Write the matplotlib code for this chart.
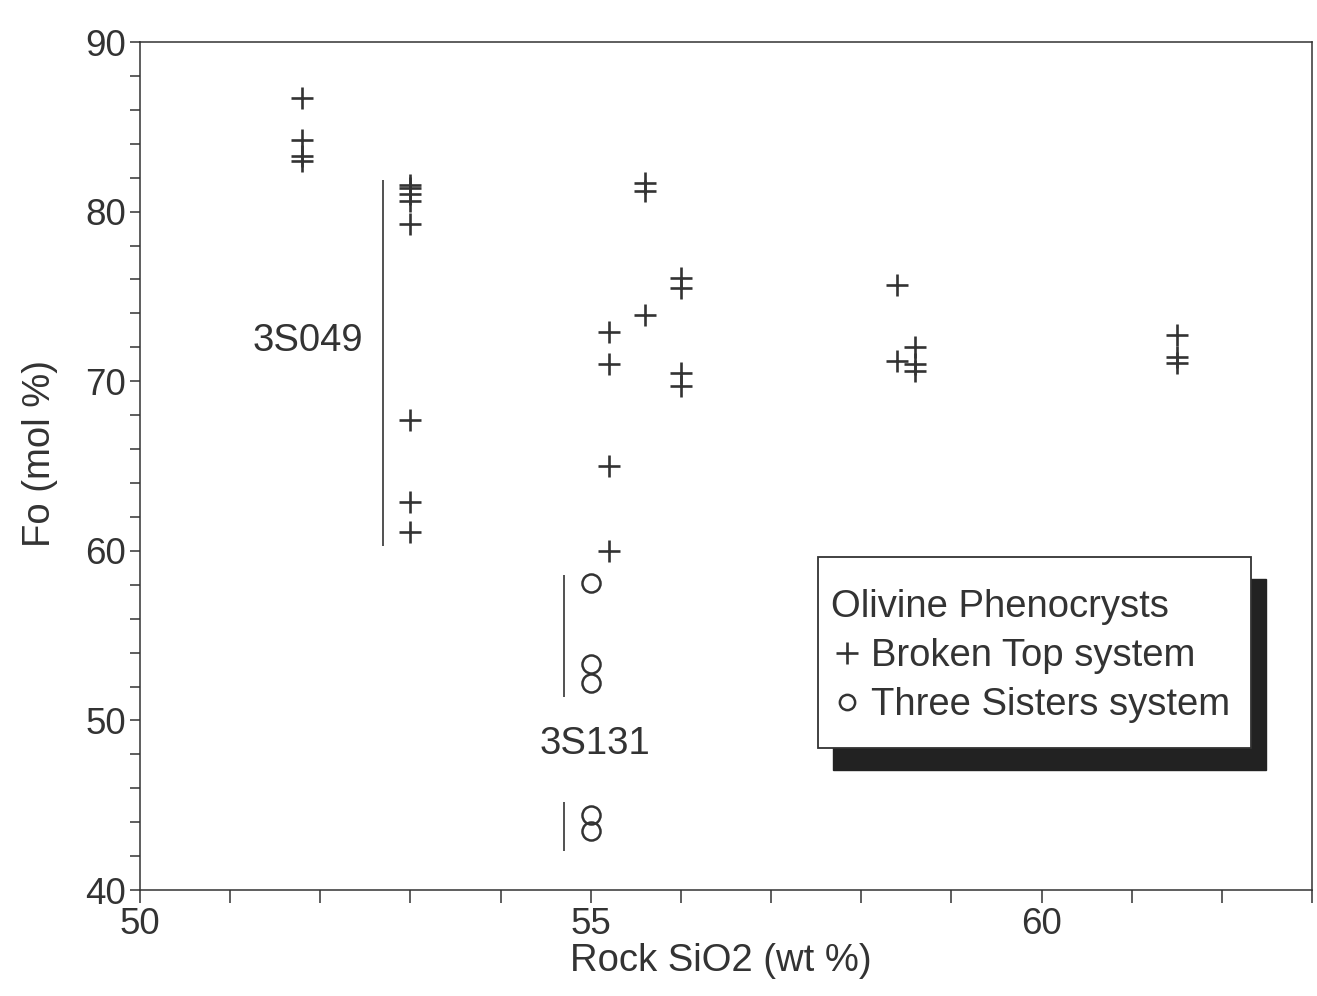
import matplotlib
matplotlib.use("Agg")
import matplotlib.pyplot as plt
from matplotlib.lines import Line2D
from matplotlib.patches import Rectangle

plt.rcParams["font.family"] = ["Liberation Sans", "DejaVu Sans"]

# Broken Top system (+)
bt_sio2 = [51.8, 51.8, 51.8, 51.8,
           53.0, 53.0, 53.0, 53.0, 53.0, 53.0, 53.0, 53.0,
           55.6, 55.6, 56.0, 56.0, 55.6, 55.2, 55.2, 56.0, 56.0, 55.2, 55.2,
           58.4, 58.4, 58.6, 58.6, 58.6,
           61.5, 61.5, 61.5]
bt_fo = [86.7, 84.2, 83.3, 83.0,
         81.55, 81.4, 81.05, 80.6, 79.25, 67.7, 62.85, 61.1,
         81.7, 81.2, 76.1, 75.5, 73.9, 72.9, 71.0, 70.5, 69.7, 65.0, 60.0,
         75.7, 71.2, 72.0, 71.0, 70.6,
         72.7, 71.4, 71.1]

# Three Sisters system (o)
ts_sio2 = [55.0, 55.0, 55.0, 55.0, 55.0]
ts_fo = [58.1, 53.3, 52.2, 44.4, 43.5]

# sample range bars
bar_names = ["3S049", "3S131", ""]
bar_x = [52.7, 54.7, 54.7]
bar_lo = [60.3, 51.4, 42.3]
bar_hi = [81.85, 58.6, 45.2]
name_x = [51.86, 55.05]
name_y = [72.4, 48.6]

ink = "#333333"
fs = 27.5

fig = plt.figure(figsize=(13.17, 9.96), dpi=100)
ax = fig.add_axes([0.1063, 0.1064, 0.8899, 0.8514])

ax.plot(bt_sio2, bt_fo, ls="none", marker="+", ms=16, mew=1.9, color=ink)
ax.plot(ts_sio2, ts_fo, ls="none", marker="o", ms=13, mew=1.8,
        mfc="none", mec=ink)

ax.vlines(bar_x, bar_lo, bar_hi, colors=ink, lw=1.2)
for nm, xx, yy in zip(bar_names, name_x, name_y):
    ax.text(xx, yy, nm, ha="center", va="center", fontsize=fs, color=ink)

ax.set_xlim(50, 63)
ax.set_ylim(40, 90)
ax.set_xticks([50, 55, 60])
ax.set_xticks(range(50, 64), minor=True)
ax.set_yticks([40, 50, 60, 70, 80, 90])
ax.set_yticks(range(40, 91, 2), minor=True)
ax.tick_params(axis="x", which="both", direction="out", length=9,
               width=1.1, color=ink, labelsize=26.5, labelcolor=ink, pad=3)
ax.tick_params(axis="y", which="both", direction="out", length=7,
               width=1.1, color=ink, labelsize=26.5, labelcolor=ink, pad=3)
for s in ax.spines.values():
    s.set_linewidth(1.1)
    s.set_color(ink)

ax.set_xlabel("Rock SiO2 (wt %)", fontsize=fs, color=ink)
ax.set_ylabel("Fo (mol %)", fontsize=fs, color=ink)
ax.xaxis.set_label_coords(0.4957, -0.062)
ax.yaxis.set_label_coords(-0.07, 0.515)

# legend box with solid drop shadow
bx, by, bw, bh = 0.5785, 0.1675, 0.3695, 0.2252
ax.add_patch(Rectangle((bx + 0.0128, by - 0.0259), bw, bh,
                       transform=ax.transAxes, fc="#222222", ec="#222222",
                       zorder=4))
ax.add_patch(Rectangle((bx, by), bw, bh, transform=ax.transAxes,
                       fc="white", ec=ink, lw=1.3, zorder=4.5))

handles = [Line2D([], [], ls="none", marker="+", ms=16, mew=1.9, color=ink),
           Line2D([], [], ls="none", marker="o", ms=11, mew=1.8,
                  mfc="none", mec=ink)]
leg = ax.legend(handles, ["Broken Top system", "Three Sisters system"],
                title="Olivine Phenocrysts", alignment="left",
                loc="upper left", bbox_to_anchor=(0.5896, 0.355),
                borderaxespad=0, borderpad=0, fontsize=fs, title_fontsize=fs,
                handlelength=0.84, handletextpad=0.2, labelspacing=0.34,
                frameon=False)
leg.set_zorder(5)
leg.get_title().set_color(ink)
for t in leg.get_texts():
    t.set_color(ink)

fig.savefig("out.png", dpi=100)
